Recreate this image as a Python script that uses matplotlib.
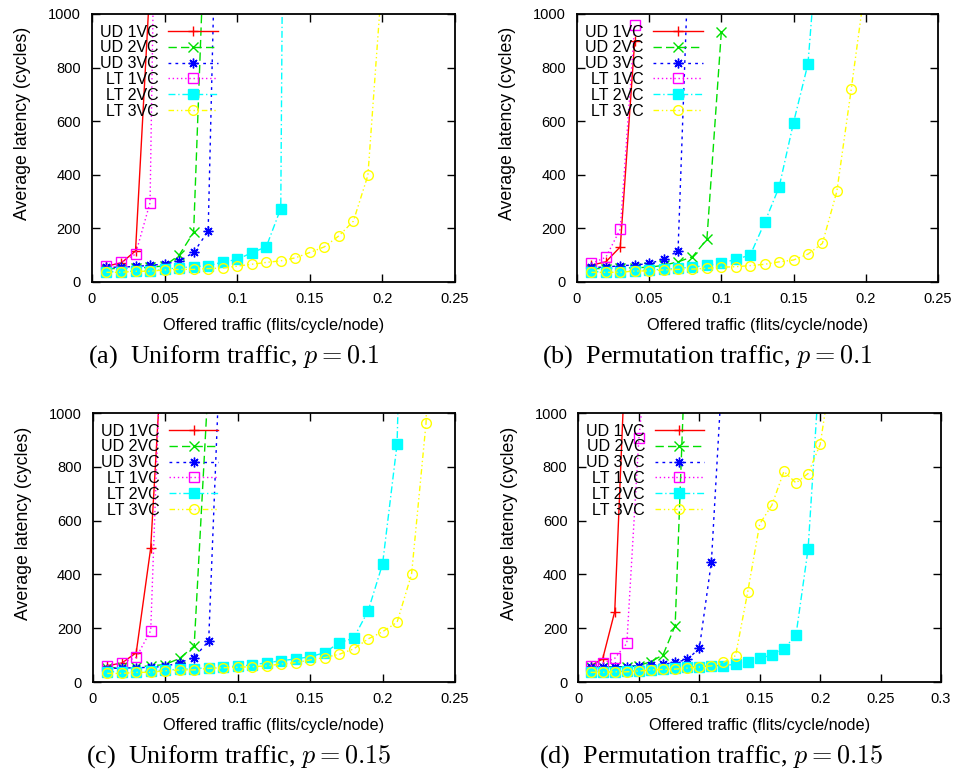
import matplotlib
matplotlib.use('Agg')
import matplotlib.pyplot as plt
from matplotlib.ticker import FuncFormatter, MultipleLocator

plt.rcParams['font.family'] = ['Liberation Sans', 'DejaVu Sans']
plt.rcParams['mathtext.fontset'] = 'cm'

labels = ['UD 1VC', 'UD 2VC', 'UD 3VC', 'LT 1VC', 'LT 2VC', 'LT 3VC']

# offered traffic points (flits/cycle/node)
load = [0.01, 0.02, 0.03, 0.04, 0.05, 0.06, 0.07, 0.08, 0.09, 0.10, 0.11, 0.12,
        0.13, 0.14, 0.15, 0.16, 0.17, 0.18, 0.19, 0.20, 0.21, 0.22, 0.23, 0.24]

# (a) Uniform traffic, p = 0.1
a_ud1 = [60, 70, 116, 1120]
a_ud2 = [50, 50, 52, 55, 60, 100, 185, 1670]
a_ud3 = [55, 55, 58, 62, 67, 78, 110, 190, 2440]
a_lt1 = [60, 73, 104, 296, 3800]
a_lt2 = [38, 38, 41, 41, 47, 53, 57, 61, 74, 84, 109, 131, 274, 8000]
a_lt3 = [36, 36, 40, 40, 45, 47, 47, 50, 52, 59, 66, 73, 79, 90, 110, 131, 172, 227, 398, 1150]

# (b) Permutation traffic, p = 0.1
b_ud1 = [63, 75, 131, 900]
b_ud2 = [50, 50, 52, 53, 55, 62, 75, 94, 159, 934]
b_ud3 = [55, 55, 61, 63, 69, 84, 116, 1616]
b_lt1 = [69, 92, 197, 959]
b_lt2 = [38, 38, 38, 42, 45, 47, 51, 55, 62, 69, 85, 100, 222, 354, 595, 814, 1500]
b_lt3 = [36, 36, 36, 41, 41, 45, 47, 48, 51, 55, 57, 61, 66, 75, 82, 104, 144, 338, 721, 1120]

# (c) Uniform traffic, p = 0.15
c_ud1 = [61, 70, 109, 498, 1445]
c_ud2 = [52, 55, 57, 60, 65, 88, 134, 1141]
c_ud3 = [50, 52, 53, 55, 58, 72, 91, 153, 1519]
c_lt1 = [61, 70, 92, 191, 1717]
c_lt2 = [38, 38, 38, 41, 45, 47, 50, 53, 55, 60, 63, 72, 79, 86, 94, 109, 146, 163,
         264, 439, 885, 3000]
c_lt3 = [32, 32, 36, 36, 42, 45, 45, 51, 53, 55, 57, 60, 67, 72, 82, 91, 103, 123,
         160, 187, 222, 401, 963, 3000]

# (d) Permutation traffic, p = 0.15
d_ud1 = [60, 86, 262, 1347]
d_ud2 = [57, 57, 57, 57, 61, 76, 101, 210, 1425]
d_ud3 = [57, 57, 57, 57, 61, 63, 66, 73, 84, 125, 448, 1240]
d_lt1 = [60, 70, 88, 144, 907, 1372]
d_lt2 = [38, 38, 38, 41, 41, 45, 48, 51, 55, 57, 61, 61, 66, 73, 88, 101, 123, 175, 494, 1200]
d_lt3 = [36, 36, 38, 38, 41, 45, 47, 48, 52, 56, 60, 73, 98, 334, 588, 657, 783, 740,
         775, 883, 1175]

panels = [
    ([a_ud1, a_ud2, a_ud3, a_lt1, a_lt2, a_lt3], 0.25, r'(a)  Uniform traffic, $p = 0.1$'),
    ([b_ud1, b_ud2, b_ud3, b_lt1, b_lt2, b_lt3], 0.25, r'(b)  Permutation traffic, $p = 0.1$'),
    ([c_ud1, c_ud2, c_ud3, c_lt1, c_lt2, c_lt3], 0.25, r'(c)  Uniform traffic, $p = 0.15$'),
    ([d_ud1, d_ud2, d_ud3, d_lt1, d_lt2, d_lt3], 0.3, r'(d)  Permutation traffic, $p = 0.15$'),
]

# gnuplot-like styles: colour, marker, dash pattern, filled
styles = [
    ('#ff0000', '+', '-', False),
    ('#00e000', 'x', (0, (6, 3)), False),
    ('#0000ff', (8, 2, 0), (0, (2, 3)), False),
    ('#ff00ff', 's', (0, (1, 2)), False),
    ('#00ffff', 's', (0, (5, 2, 1, 2)), True),
    ('#ffff00', 'o', (0, (4, 2, 1, 2, 1, 2)), False),
]

boxes = [
    [0.0958, 0.6385, 0.3782, 0.3436],
    [0.6010, 0.6385, 0.3760, 0.3436],
    [0.0966, 0.1256, 0.3774, 0.3449],
    [0.6026, 0.1256, 0.3776, 0.3449],
]
caption_pos = [(0.243, 0.543), (0.737, 0.543), (0.248, 0.030), (0.741, 0.030)]

fig = plt.figure(figsize=(9.6, 7.8), dpi=100)

for (series, xmax, caption), box, cpos in zip(panels, boxes, caption_pos):
    ax = fig.add_axes(box)
    for ys, lab, (col, mk, ls, filled) in zip(series, labels, styles):
        ax.plot(load[:len(ys)], ys, color=col, linestyle=ls, linewidth=1.0,
                marker=mk, markersize=7 if mk != 's' else 6.5,
                markerfacecolor=col if filled else 'none',
                markeredgecolor=col, markeredgewidth=1.0, label=lab)
    ax.set_xlim(0, xmax)
    ax.set_ylim(0, 1000)
    ax.xaxis.set_major_locator(MultipleLocator(0.05))
    ax.yaxis.set_major_locator(MultipleLocator(200))
    ax.xaxis.set_major_formatter(FuncFormatter(lambda v, p: '%g' % round(v, 3)))
    ax.tick_params(direction='in', length=6, width=1.0, top=True, right=True,
                   labelsize=10.5)
    ax.tick_params(axis='x', pad=7)
    ax.tick_params(axis='y', pad=8)
    for sp in ax.spines.values():
        sp.set_linewidth(1.3)
    ax.set_xlabel('Offered traffic (flits/cycle/node)', fontsize=11.7, labelpad=9)
    ax.set_ylabel('Average latency (cycles)', fontsize=12.8, labelpad=12)
    ax.yaxis.label.set_y(0.59)
    ax.legend(loc='upper left', bbox_to_anchor=(0.0, 0.99), frameon=False,
              markerfirst=False, fontsize=11.5, handlelength=3.1, handletextpad=0.6,
              labelspacing=0.05, borderaxespad=0.2, borderpad=0.3)
    fig.text(cpos[0], cpos[1], caption, ha='center', va='center',
             family=['Liberation Serif', 'DejaVu Serif'], fontsize=18.8)

fig.savefig('out.png', dpi=100)
